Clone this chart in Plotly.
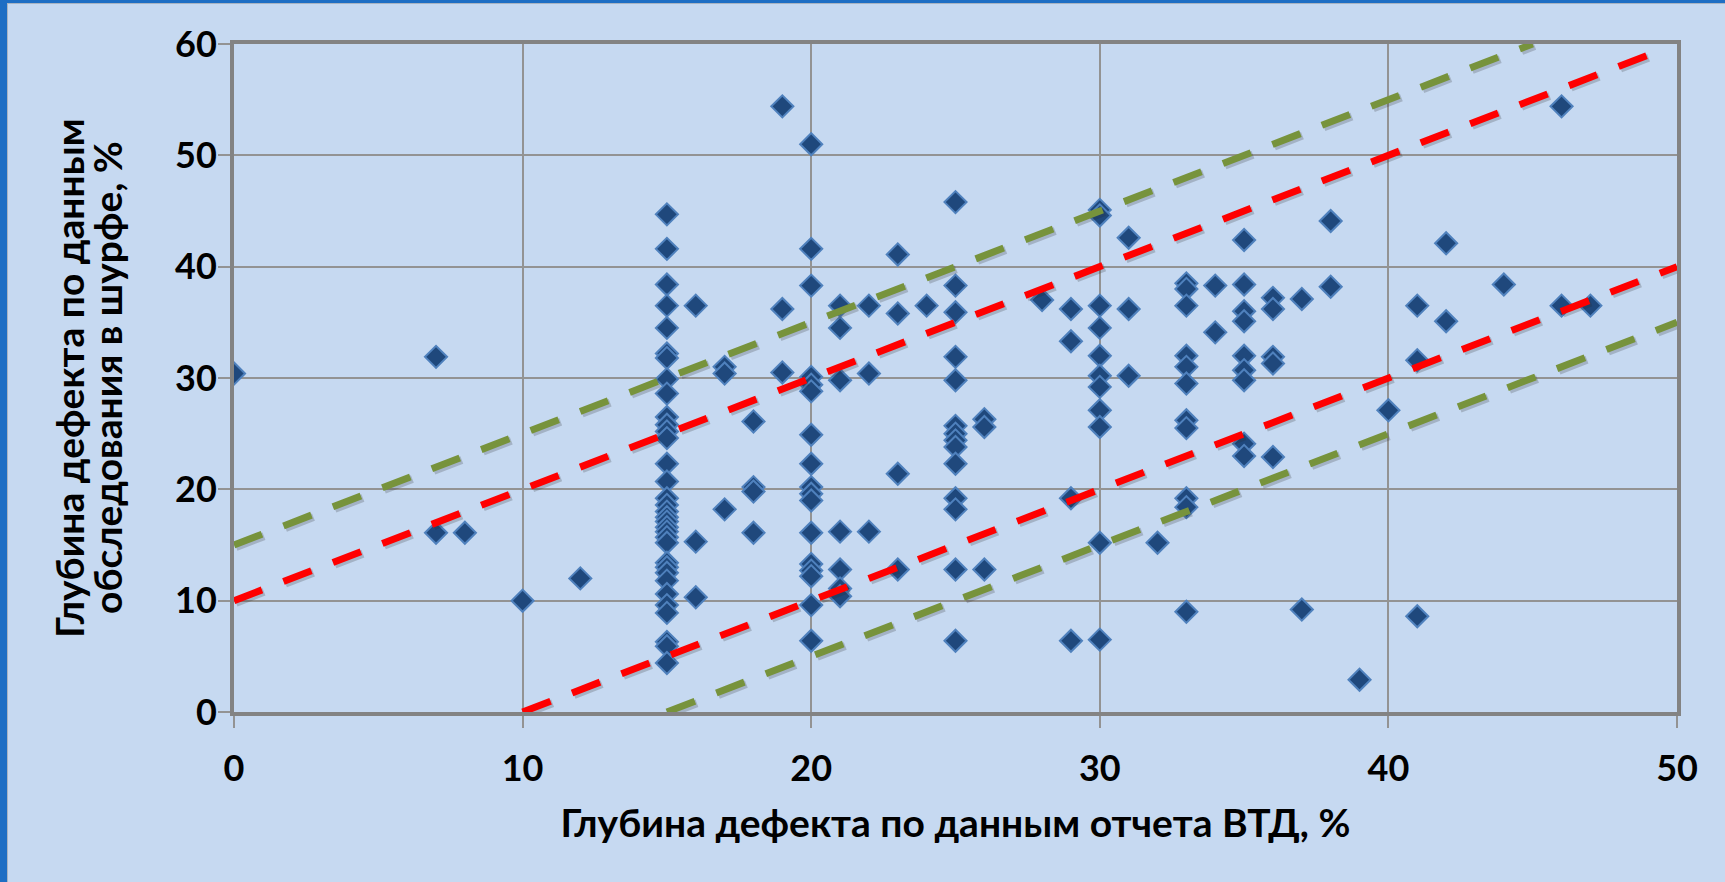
import plotly.graph_objects as go

# Defect depth per in-line inspection (ВТД) report, % — x values
vtd_depth = [
    0,
    7, 7,
    8,
    10,
    12,
    15, 15, 15, 15, 15, 15, 15, 15, 15, 15, 15, 15, 15, 15, 15, 15, 15, 15, 15, 15,
    15, 15, 15, 15, 15, 15, 15, 15, 15, 15, 15, 15, 15, 15,
    16, 16, 16,
    17, 17, 17,
    18, 18, 18, 18,
    19, 19, 19,
    20, 20, 20, 20, 20, 20, 20, 20, 20, 20, 20, 20, 20, 20, 20, 20, 20,
    21, 21, 21, 21, 21, 21, 21,
    22, 22, 22,
    23, 23, 23, 23,
    24,
    25, 25, 25, 25, 25, 25, 25, 25, 25, 25, 25, 25, 25, 25,
    26, 26, 26,
    28,
    29, 29, 29, 29,
    30, 30, 30, 30, 30, 30, 30, 30, 30, 30, 30,
    31, 31, 31,
    32,
    33, 33, 33, 33, 33, 33, 33, 33, 33, 33, 33,
    34, 34,
    35, 35, 35, 35, 35, 35, 35, 35, 35,
    36, 36, 36, 36, 36,
    37, 37,
    38, 38,
    39,
    40,
    41, 41, 41,
    42, 42,
    44,
    46, 46,
    47,
]

# Defect depth measured in the inspection pit (шурф), % — y values
pit_depth = [
    30.4,
    31.9, 16.1,
    16.1,
    10.0,
    12.0,
    44.7, 41.6, 38.4, 36.5, 34.5, 32.2, 31.8, 29.9, 28.6, 26.5, 25.8, 25.2, 24.6, 22.3,
    20.7, 19.2, 18.6, 18.0, 17.5, 17.1, 16.6, 16.2, 15.7, 15.2,
    13.4, 13.0, 12.5, 11.8, 10.6, 9.6, 8.9, 6.3, 5.9, 4.4,
    36.5, 15.3, 10.3,
    31.0, 30.4, 18.2,
    26.1, 20.2, 19.8, 16.1,
    54.4, 36.2, 30.5,
    51.0, 41.6, 38.3, 30.1, 29.4, 28.8, 24.9, 22.3, 20.2, 19.6, 19.0, 16.1, 13.3, 12.7,
    12.2, 9.6, 6.4,
    36.5, 34.5, 29.8, 16.2, 12.8, 11.1, 10.4,
    36.5, 30.4, 16.2,
    41.1, 35.8, 21.4, 12.8,
    36.5,
    45.8, 38.3, 35.9, 31.9, 29.8, 25.7, 25.0, 24.4, 23.8, 22.3, 19.2, 18.2, 12.8, 6.4,
    26.3, 25.6, 12.8,
    37.0,
    36.2, 33.3, 19.2, 6.4,
    45.1, 44.6, 36.5, 34.5, 32.0, 30.2, 29.2, 27.1, 25.6, 15.2, 6.5,
    42.6, 36.2, 30.2,
    15.2,
    38.5, 38.0, 36.5, 32.0, 31.0, 29.5, 26.2, 25.5, 19.2, 18.4, 9.0,
    38.3, 34.1,
    42.4, 38.4, 36.0, 35.1, 32.0, 30.7, 29.8, 24.1, 23.0,
    37.2, 36.2, 31.9, 31.3, 22.9,
    37.1, 9.2,
    44.1, 38.2,
    2.9,
    27.1,
    36.5, 31.6, 8.6,
    42.1, 35.1,
    38.4,
    54.4, 36.5,
    36.5,
]

# Tolerance bands around the ideal y = x line: ±10 % (red) and ±15 % (green),
# each given as offset and the x-extent over which it is drawn
red_offsets = [10, -10]
red_x_spans = [[0, 49], [10, 50]]
green_offsets = [15, -15]
green_x_spans = [[0, 45], [15, 50]]

x_ticks = [0, 10, 20, 30, 40, 50]
y_ticks = [0, 10, 20, 30, 40, 50, 60]
x_range = [0, 50]
y_range = [0, 60]

x_title = "Глубина дефекта по данным отчета ВТД, %"
y_title_lines = ["Глубина дефекта по данным", "обследования в шурфе, %"]

BG = "#C6D9F1"
FONT = "Lato"
TITLE_SIZE = 39
DASH = "30px,23px"

fig = go.Figure()

fig.add_trace(go.Scatter(
    x=vtd_depth, y=pit_depth, mode="markers",
    marker=dict(symbol="diamond", size=17, color="#1F487C",
                line=dict(color="#4F81BD", width=2)),
    showlegend=False, hoverinfo="x+y",
))

# soft drop shadow under the dashed band lines (about 2 px right, 2 px down)
sx, sy = 0.07, -0.18
for offsets, spans in ((red_offsets, red_x_spans), (green_offsets, green_x_spans)):
    for off, (x0, x1) in zip(offsets, spans):
        fig.add_trace(go.Scatter(
            x=[x0 + sx, x1 + sx], y=[x0 + off + sy, x1 + off + sy], mode="lines",
            line=dict(color="rgba(40,40,40,0.22)", width=8, dash=DASH),
            showlegend=False, hoverinfo="skip",
        ))

for offsets, spans, color in ((red_offsets, red_x_spans, "#FF0000"),
                              (green_offsets, green_x_spans, "#77933C")):
    for off, (x0, x1) in zip(offsets, spans):
        fig.add_trace(go.Scatter(
            x=[x0, x1], y=[x0 + off, x1 + off], mode="lines",
            line=dict(color=color, width=7, dash=DASH),
            showlegend=False, hoverinfo="skip",
        ))

axis_common = dict(
    showgrid=True, gridcolor="#939393", gridwidth=1.5,
    showline=True, linecolor="#838383", linewidth=4, mirror=True,
    ticks="outside", ticklen=12, tickwidth=1.5, tickcolor="#939393",
    zeroline=False,
    tickfont=dict(family=FONT, size=36, color="black", weight="bold"),
)

fig.update_xaxes(
    range=x_range, tickvals=x_ticks, ticktext=[str(v) for v in x_ticks],
    ticklabelstandoff=10,
    title=dict(text=x_title, standoff=22,
               font=dict(family=FONT, size=TITLE_SIZE, color="black", weight="bold")),
    **axis_common,
)
fig.update_yaxes(
    range=y_range, tickvals=y_ticks, ticktext=[str(v) for v in y_ticks],
    ticklabelstandoff=-6,
    **axis_common,
)

# y-axis title, two lines set close together
for text, xpx in zip(y_title_lines, (69, 107)):
    fig.add_annotation(
        text=text, textangle=-90, showarrow=False,
        xref="paper", yref="paper", x=(xpx - 234) / 1443, y=0.5,
        xanchor="center", yanchor="middle",
        font=dict(family=FONT, size=TITLE_SIZE, color="black", weight="bold"),
    )

fig.update_layout(
    width=1725, height=882,
    margin=dict(l=234, r=48, t=44, b=170, autoexpand=False),
    paper_bgcolor=BG, plot_bgcolor=BG,
    font=dict(family=FONT, color="black"),
    shapes=[
        # slide frame: blue strip on the left and top edges
        dict(type="rect", xref="paper", yref="paper", layer="above",
             x0=-234 / 1443, x1=-227 / 1443, y0=-170 / 668, y1=(668 + 44) / 668,
             fillcolor="#1E6EC4", line_width=0),
        dict(type="rect", xref="paper", yref="paper", layer="above",
             x0=-234 / 1443, x1=(1443 + 48) / 1443, y0=(668 + 41) / 668, y1=(668 + 44) / 668,
             fillcolor="#1E6EC4", line_width=0),
        dict(type="line", xref="paper", yref="paper", layer="above",
             x0=-226.5 / 1443, x1=-226.5 / 1443, y0=-170 / 668, y1=(668 + 40) / 668,
             line=dict(color="#A9B4C2", width=1)),
        dict(type="line", xref="paper", yref="paper", layer="above",
             x0=-227 / 1443, x1=(1443 + 48) / 1443, y0=(668 + 40.5) / 668, y1=(668 + 40.5) / 668,
             line=dict(color="#A9B4C2", width=1)),
    ],
)

fig.write_html("out.html")
